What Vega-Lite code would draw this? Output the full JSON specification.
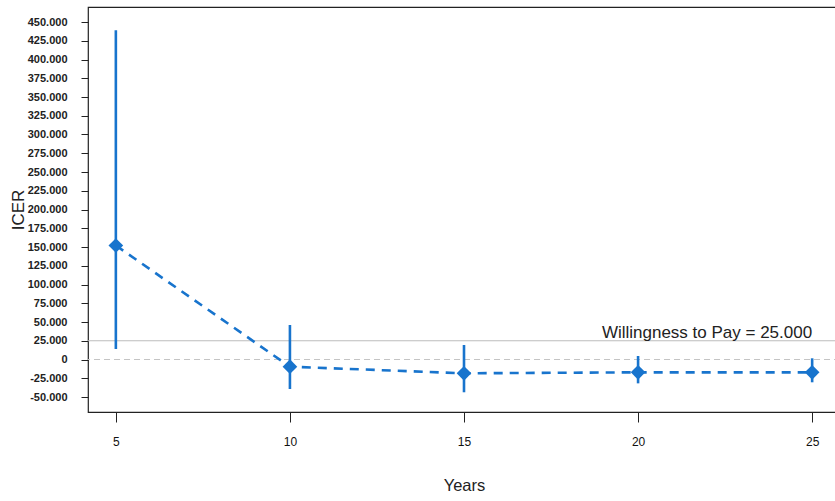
{
  "$schema": "https://vega.github.io/schema/vega-lite/v6.json",
  "autosize": {"type": "none"},
  "padding": {"left": 88, "top": 7, "right": 0, "bottom": 89},
  "width": 752,
  "height": 405,
  "background": "white",
  "config": {
    "locale": {"number": {"decimal": ",", "thousands": ".", "grouping": [3], "currency": ["", " €"], "minus": "-"}},
    "view": {"stroke": "#222", "strokeWidth": 1.2},
    "font": "Liberation Sans"
  },
  "datasets": {
    "icer": [
      {"year": 5, "icer": 152000, "lo": 14000, "hi": 439000},
      {"year": 10, "icer": -9600, "lo": -39300, "hi": 46000},
      {"year": 15, "icer": -18400, "lo": -43700, "hi": 19300},
      {"year": 20, "icer": -17100, "lo": -31800, "hi": 4700},
      {"year": 25, "icer": -17100, "lo": -30400, "hi": 1600}
    ],
    "wtp": [{"year": 25, "wtp": 25000, "label": "Willingness to Pay = 25.000"}],
    "zero": [{"zero": 0}]
  },
  "layer": [
    {
      "data": {"name": "icer"},
      "mark": {"type": "point", "shape": "diamond", "filled": true, "opacity": 0, "color": "#1874CD", "size": 1},
      "encoding": {
        "x": {
          "field": "year", "type": "quantitative", "title": "Years",
          "scale": {"domain": [4.2, 25.8], "nice": false, "zero": false},
          "axis": {
            "title": "Years", "values": [5, 10, 15, 20, 25], "tickCount": 10, "grid": false, "domain": false, "labelOverlap": false,
            "tickSize": 10, "tickColor": "#222", "tickWidth": 1,
            "labelFont": "Liberation Sans", "labelFontSize": 12, "labelColor": "#111", "labelPadding": 14,
            "titleFont": "Liberation Sans", "titleFontSize": 16.5, "titleFontWeight": "normal", "titleColor": "#222",
            "titleY": 73, "titleBaseline": "middle"
          }
        },
        "y": {
          "field": "icer", "type": "quantitative", "title": "ICER",
          "scale": {"domain": [-70000, 470000], "nice": false, "zero": false},
          "axis": {
            "title": "ICER", "format": ",d", "labelOverlap": false, "tickCount": 40,
            "values": [-50000, -25000, 0, 25000, 50000, 75000, 100000, 125000, 150000, 175000, 200000, 225000, 250000, 275000, 300000, 325000, 350000, 375000, 400000, 425000, 450000],
            "grid": false, "domain": false,
            "tickSize": 7, "tickColor": "#222", "tickWidth": 1,
            "labelFont": "Liberation Sans", "labelFontSize": 11, "labelFontWeight": "bold", "labelColor": "#222", "labelPadding": 14,
            "titleFont": "Liberation Sans", "titleFontSize": 17, "titleFontWeight": "normal", "titleColor": "#222",
            "titleX": -70, "titleBaseline": "middle", "titleAngle": -90
          }
        }
      }
    },
    {
      "data": {"name": "zero"},
      "mark": {"type": "rule", "color": "#c4c4c4", "strokeWidth": 1, "strokeDash": [6, 4]},
      "encoding": {"y": {"field": "zero", "type": "quantitative", "title": "ICER"}}
    },
    {
      "data": {"name": "wtp"},
      "mark": {"type": "rule", "color": "#bdbdbd", "strokeWidth": 1},
      "encoding": {"y": {"field": "wtp", "type": "quantitative", "title": "ICER"}}
    },
    {
      "data": {"name": "wtp"},
      "mark": {"type": "text", "align": "right", "baseline": "alphabetic", "dy": -3, "dx": 0, "fontSize": 17, "color": "#222", "font": "Liberation Sans"},
      "encoding": {
        "x": {"field": "year", "type": "quantitative", "title": "Years"},
        "y": {"field": "wtp", "type": "quantitative", "title": "ICER"},
        "text": {"field": "label"}
      }
    },
    {
      "data": {"name": "icer"},
      "mark": {"type": "line", "color": "#1874CD", "strokeWidth": 2.6, "strokeDash": [9, 7]},
      "encoding": {
        "x": {"field": "year", "type": "quantitative", "title": "Years"},
        "y": {"field": "icer", "type": "quantitative", "title": "ICER"}
      }
    },
    {
      "data": {"name": "icer"},
      "mark": {"type": "rule", "color": "#1874CD", "strokeWidth": 2.6},
      "encoding": {
        "x": {"field": "year", "type": "quantitative", "title": "Years"},
        "y": {"field": "lo", "type": "quantitative", "title": "ICER"},
        "y2": {"field": "hi"}
      }
    },
    {
      "data": {"name": "icer"},
      "mark": {"type": "point", "shape": "diamond", "filled": true, "opacity": 1, "color": "#1874CD", "size": 215},
      "encoding": {
        "x": {"field": "year", "type": "quantitative", "title": "Years"},
        "y": {"field": "icer", "type": "quantitative", "title": "ICER"}
      }
    }
  ]
}
